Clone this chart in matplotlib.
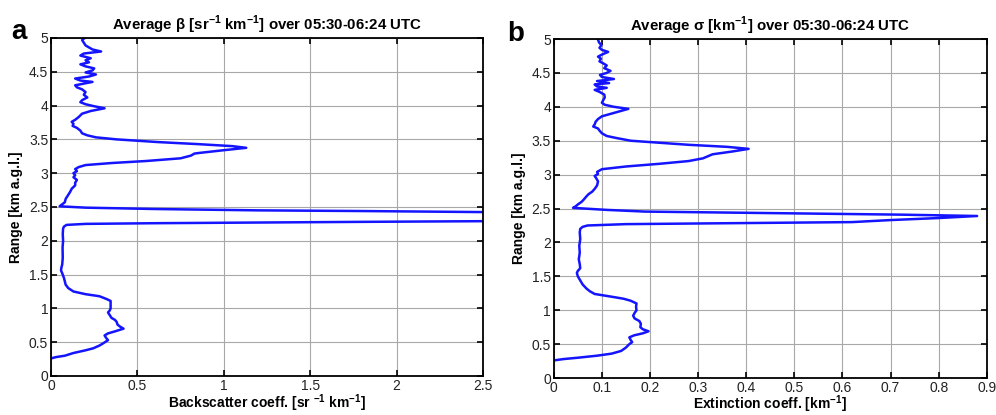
import matplotlib
matplotlib.use("Agg")
import matplotlib.pyplot as plt

plt.rcParams['font.family'] = ['Liberation Sans', 'DejaVu Sans']
plt.rcParams['mathtext.fontset'] = 'custom'
plt.rcParams['mathtext.rm'] = 'Liberation Sans:bold'
plt.rcParams['mathtext.bf'] = 'Liberation Sans:bold'

# height (km a.g.l.) and backscatter (sr-1 km-1)
beta_h = [0.26, 0.28, 0.30, 0.34, 0.38, 0.41, 0.45, 0.48, 0.53, 0.56, 0.60, 0.63, 0.66, 0.70,
          0.73, 0.76, 0.80, 0.83, 0.86, 0.90, 0.94, 0.97, 1.00, 1.05, 1.11, 1.14, 1.18, 1.21,
          1.25, 1.30, 1.35, 1.45, 1.52, 1.56, 1.60, 1.65, 1.75, 1.90, 2.00, 2.10, 2.18, 2.21,
          2.235, 2.25, 2.26, 2.27, 2.28, 2.29, 2.33, 2.38, 2.42, 2.44, 2.45, 2.47, 2.49, 2.51,
          2.53, 2.57, 2.62, 2.68, 2.72, 2.77, 2.82, 2.86, 2.90, 2.94, 2.97, 3.00, 3.03, 3.06,
          3.09, 3.12, 3.15, 3.18, 3.22, 3.26, 3.29, 3.30, 3.34, 3.375, 3.40, 3.43, 3.46, 3.50,
          3.53, 3.56, 3.59, 3.63, 3.67, 3.70, 3.73, 3.76, 3.79, 3.83, 3.88, 3.92, 3.96, 3.99,
          4.02, 4.05, 4.08, 4.12, 4.16, 4.20, 4.24, 4.27, 4.30, 4.33, 4.35, 4.37, 4.40, 4.43,
          4.46, 4.49, 4.52, 4.55, 4.58, 4.61, 4.64, 4.67, 4.70, 4.74, 4.77, 4.80, 4.83, 4.86,
          4.89, 4.93, 4.97, 4.99]
beta_v = [0.0, 0.03, 0.08, 0.13, 0.20, 0.245, 0.28, 0.30, 0.33, 0.32, 0.31, 0.33, 0.37, 0.42,
          0.40, 0.385, 0.38, 0.37, 0.35, 0.34, 0.33, 0.34, 0.345, 0.345, 0.345, 0.32, 0.28, 0.20,
          0.13, 0.10, 0.085, 0.075, 0.065, 0.058, 0.060, 0.065, 0.068, 0.067, 0.07, 0.068, 0.07, 0.075,
          0.09, 0.2, 0.6, 1.2, 1.8, 2.5, 2.9, 3.1, 2.7, 1.8, 1.2, 0.6, 0.2, 0.05,
          0.06, 0.08, 0.085, 0.10, 0.11, 0.12, 0.14, 0.14, 0.15, 0.13, 0.14, 0.13, 0.15, 0.14,
          0.16, 0.20, 0.35, 0.55, 0.75, 0.81, 0.83, 0.86, 1.0, 1.13, 1.05, 0.85, 0.62, 0.38,
          0.26, 0.21, 0.18, 0.17, 0.15, 0.125, 0.13, 0.12, 0.14, 0.16, 0.18, 0.23, 0.31, 0.25,
          0.20, 0.17, 0.18, 0.21, 0.19, 0.20, 0.18, 0.15, 0.14, 0.20, 0.24, 0.17, 0.14, 0.22,
          0.26, 0.20, 0.24, 0.25, 0.20, 0.17, 0.22, 0.20, 0.23, 0.17, 0.19, 0.29, 0.24, 0.22,
          0.20, 0.19, 0.18, 0.19]

# height (km a.g.l.) and extinction (km-1)
sigma_h = [0.26, 0.28, 0.30, 0.33, 0.36, 0.40, 0.45, 0.50, 0.53, 0.56, 0.60, 0.63, 0.66, 0.69,
           0.72, 0.75, 0.80, 0.84, 0.88, 0.92, 0.96, 1.00, 1.05, 1.10, 1.14, 1.17, 1.20, 1.24,
           1.28, 1.32, 1.38, 1.44, 1.50, 1.55, 1.58, 1.62, 1.68, 1.75, 1.85, 1.95, 2.05, 2.15,
           2.20, 2.23, 2.25, 2.27, 2.28, 2.29, 2.30, 2.33, 2.36, 2.39, 2.41, 2.43, 2.445, 2.455,
           2.48, 2.51, 2.53, 2.56, 2.60, 2.63, 2.68, 2.71, 2.75, 2.79, 2.84, 2.90, 2.95, 2.98,
           3.01, 3.04, 3.08, 3.12, 3.16, 3.20, 3.24, 3.27, 3.30, 3.34, 3.38, 3.41, 3.44, 3.47,
           3.50, 3.54, 3.57, 3.61, 3.65, 3.68, 3.71, 3.74, 3.78, 3.82, 3.86, 3.90, 3.94, 3.97,
           4.00, 4.03, 4.06, 4.10, 4.14, 4.18, 4.22, 4.25, 4.28, 4.30, 4.33, 4.35, 4.38, 4.41,
           4.44, 4.47, 4.50, 4.53, 4.57, 4.61, 4.64, 4.67, 4.71, 4.74, 4.77, 4.81, 4.84, 4.87,
           4.91, 4.95, 4.99]
sigma_v = [0.0, 0.02, 0.05, 0.09, 0.12, 0.14, 0.15, 0.157, 0.163, 0.16, 0.157, 0.167, 0.185, 0.197,
           0.185, 0.18, 0.181, 0.178, 0.168, 0.165, 0.168, 0.172, 0.171, 0.172, 0.16, 0.145, 0.12, 0.085,
           0.075, 0.068, 0.06, 0.055, 0.05, 0.048, 0.05, 0.055, 0.054, 0.052, 0.054, 0.053, 0.055, 0.054,
           0.055, 0.06, 0.07, 0.15, 0.30, 0.45, 0.62, 0.70, 0.80, 0.88, 0.72, 0.48, 0.30, 0.19,
           0.11, 0.04, 0.045, 0.05, 0.058, 0.062, 0.068, 0.072, 0.08, 0.085, 0.09, 0.092, 0.088, 0.085,
           0.092, 0.09, 0.10, 0.15, 0.22, 0.28, 0.31, 0.32, 0.33, 0.37, 0.405, 0.36, 0.28, 0.22,
           0.16, 0.13, 0.11, 0.10, 0.095, 0.092, 0.082, 0.085, 0.087, 0.092, 0.10, 0.12, 0.14, 0.155,
           0.125, 0.106, 0.10, 0.103, 0.106, 0.105, 0.095, 0.085, 0.11, 0.09, 0.085, 0.115, 0.09, 0.125,
           0.10, 0.096, 0.11, 0.118, 0.105, 0.11, 0.103, 0.095, 0.098, 0.092, 0.10, 0.113, 0.10, 0.095,
           0.099, 0.094, 0.092]

beta_xticks = [0, 0.5, 1, 1.5, 2, 2.5]
beta_xlabels = ['0', '0.5', '1', '1.5', '2', '2.5']
sigma_xticks = [0, 0.1, 0.2, 0.3, 0.4, 0.5, 0.6, 0.7, 0.8, 0.9]
sigma_xlabels = ['0', '0.1', '0.2', '0.3', '0.4', '0.5', '0.6', '0.7', '0.8', '0.9']
yticks = [0, 0.5, 1, 1.5, 2, 2.5, 3, 3.5, 4, 4.5, 5]
ylabels = ['0', '0.5', '1', '1.5', '2', '2.5', '3', '3.5', '4', '4.5', '5']

fig = plt.figure(figsize=(9.96, 4.15), dpi=100)
ax1 = fig.add_axes([0.0512, 0.094, 0.4337, 0.8145])
ax2 = fig.add_axes([0.556, 0.089, 0.4347, 0.817])


def style(ax, xmax, xticks, xlabels, xlabel, title, lpad):
    ax.set_xlim(0, xmax)
    ax.set_ylim(0, 5)
    ax.set_xticks(xticks)
    ax.set_xticklabels(xlabels)
    ax.set_yticks(yticks)
    ax.set_yticklabels(ylabels)
    ax.grid(True, color='#a8a8a8', linewidth=0.8)
    ax.set_axisbelow(True)
    ax.tick_params(direction='in', top=True, right=True, length=4, width=1.2,
                   labelsize=10, pad=2, colors='black', labelcolor='#222222')
    for s in ax.spines.values():
        s.set_linewidth(1.3)
    ax.set_xlabel(xlabel, fontsize=10, fontweight='bold', labelpad=lpad)
    ax.set_ylabel('Range [km a.g.l.]', fontsize=10, fontweight='bold', labelpad=4)
    ax.set_title(title, fontsize=10.8, fontweight='bold', pad=6)


ax1.plot(beta_v, beta_h, color='#1414ff', linewidth=1.8)
style(ax1, 2.5, beta_xticks, beta_xlabels,
      r'Backscatter coeff. [sr $^{-1}$ km$^{-1}$]',
      r'Average $\mathrm{\beta}$ [sr$^{-1}$ km$^{-1}$] over 05:30-06:24 UTC', 0)

ax2.plot(sigma_v, sigma_h, color='#1414ff', linewidth=1.8)
style(ax2, 0.9, sigma_xticks, sigma_xlabels,
      r'Extinction coeff. [km$^{-1}$]',
      r'Average $\mathrm{\sigma}$ [km$^{-1}$] over 05:30-06:24 UTC', -1)

fig.text(0.019, 0.922, 'a', fontsize=20, fontweight='bold', ha='center', va='center')
fig.text(0.518, 0.918, 'b', fontsize=20, fontweight='bold', ha='center', va='center')

fig.savefig('out.png', dpi=100)
